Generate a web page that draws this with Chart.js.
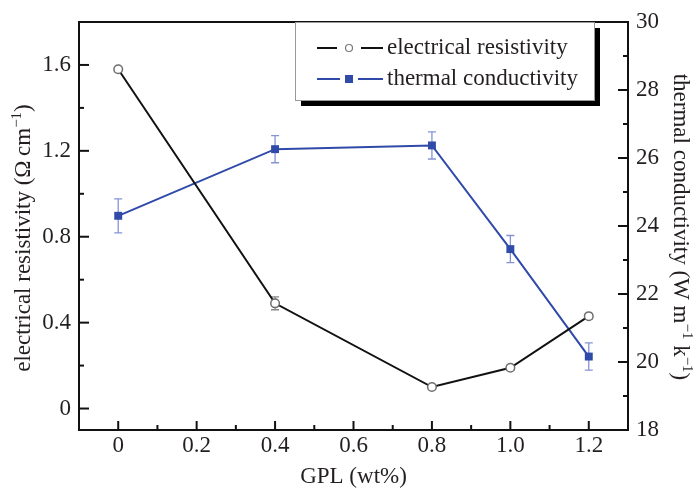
<!DOCTYPE html>
<html><head><meta charset="utf-8">
<script src="https://cdn.jsdelivr.net/npm/chart.js@4"></script>
<style>html,body{margin:0;padding:0;background:#fff;}</style>
</head><body>
<canvas id="c" width="696" height="490"></canvas>
<script>
// ---- data ----
const gpl = [0, 0.4, 0.8, 1.0, 1.2];
const resistivity = [1.58, 0.49, 0.10, 0.19, 0.43];
const resistivityErr = [0.012, 0.03, 0.01, 0.012, 0.012];
const conductivity = [24.30, 26.26, 26.37, 23.32, 20.16];
const conductivityErr = [0.5, 0.4, 0.4, 0.4, 0.4];
const xTicks = [0, 0.2, 0.4, 0.6, 0.8, 1.0, 1.2];
const xTickLabels = ['0', '0.2', '0.4', '0.6', '0.8', '1.0', '1.2'];
const xMinor = [0.1, 0.3, 0.5, 0.7, 0.9, 1.1];
const yTicks = [0, 0.4, 0.8, 1.2, 1.6];
const yTickLabels = ['0', '0.4', '0.8', '1.2', '1.6'];
const yMinor = [0.2, 0.6, 1.0, 1.4];
const y2Ticks = [18, 20, 22, 24, 26, 28, 30];
const y2TickLabels = ['18', '20', '22', '24', '26', '28', '30'];
const y2Minor = [19, 21, 23, 25, 27, 29];
const xTitle = 'GPL (wt%)';
// axis titles as [text, superscript?] parts
const yTitleParts = [['electrical resistivity (Ω\u2009cm', false], ['\u22121', true], [')', false]];
const y2TitleParts = [['thermal conductivity (W m', false], ['\u22121', true], [' k', false], ['\u22121', true], [')', false]];

const FONT = "'Liberation Serif', 'Times New Roman', serif";
const TXT = '#231f20';
const BLUE = '#2f4aa8';

const pts = (xs, ys) => xs.map((x, i) => ({x: x, y: ys[i]}));

function drawErr(ctx, ds, xScale, yScale) {
  ctx.save();
  ctx.strokeStyle = ds.errColor;
  ctx.lineWidth = 1.3;
  ds.data.forEach((p, i) => {
    const e = ds.errors[i];
    const px = xScale.getPixelForValue(p.x);
    const t = yScale.getPixelForValue(p.y + e);
    const b = yScale.getPixelForValue(p.y - e);
    ctx.beginPath();
    ctx.moveTo(px, t); ctx.lineTo(px, b);
    ctx.moveTo(px - 4, t); ctx.lineTo(px + 4, t);
    ctx.moveTo(px - 4, b); ctx.lineTo(px + 4, b);
    ctx.stroke();
  });
  ctx.restore();
}

function marks(ctx, scale, vals, len, side, a) {
  vals.forEach(v => {
    const p = scale.getPixelForValue(v);
    ctx.beginPath();
    if (side === 'bottom') { ctx.moveTo(p, a.bottom); ctx.lineTo(p, a.bottom - len); }
    else if (side === 'left') { ctx.moveTo(a.left, p); ctx.lineTo(a.left + len, p); }
    else { ctx.moveTo(a.right, p); ctx.lineTo(a.right - len, p); }
    ctx.stroke();
  });
}

function richText(ctx, parts, bx, cy, rot) {
  const big = '23px ' + FONT, small = '15px ' + FONT;
  let total = 0;
  const widths = parts.map(p => { ctx.font = p[1] ? small : big; const w = ctx.measureText(p[0]).width; total += w; return w; });
  ctx.save();
  ctx.translate(bx, cy);
  ctx.rotate(rot);
  ctx.fillStyle = TXT;
  ctx.textBaseline = 'alphabetic';
  ctx.textAlign = 'left';
  let x = -total / 2;
  parts.forEach((p, i) => {
    ctx.font = p[1] ? small : big;
    ctx.fillText(p[0], x, p[1] ? -9 : 0);
    x += widths[i];
  });
  ctx.restore();
}

const plotPlugin = {
  id: 'plotExtras',
  beforeDatasetsDraw(chart) {
    const ctx = chart.ctx;
    chart.data.datasets.forEach(ds => {
      drawErr(ctx, ds, chart.scales.x, chart.scales[ds.yAxisID]);
    });
  },
  afterDraw(chart) {
    const ctx = chart.ctx, a = chart.chartArea, s = chart.scales;
    ctx.save();
    ctx.strokeStyle = '#111';
    ctx.lineWidth = 2;
    ctx.strokeRect(a.left, a.top, a.right - a.left, a.bottom - a.top);
    marks(ctx, s.x, xTicks, 9, 'bottom', a);
    marks(ctx, s.x, xMinor, 5, 'bottom', a);
    marks(ctx, s.y, yTicks, 10, 'left', a);
    marks(ctx, s.y, yMinor, 5, 'left', a);
    marks(ctx, s.y2, y2Ticks, 10, 'right', a);
    marks(ctx, s.y2, y2Minor, 5, 'right', a);

    // axis titles with superscripts
    richText(ctx, yTitleParts, 30, 238, -Math.PI / 2);
    richText(ctx, y2TitleParts, 674, 227, Math.PI / 2);

    // legend box with shadow
    const bx = 295, by = 22, bw = 299, bh = 78;
    ctx.fillStyle = '#000';
    ctx.fillRect(bx + 6, by + 6, bw, bh);
    ctx.fillStyle = '#fff';
    ctx.fillRect(bx, by, bw, bh);
    ctx.strokeStyle = '#999';
    ctx.lineWidth = 1;
    ctx.strokeRect(bx + 0.5, by + 0.5, bw, bh);
    const rows = [48, 79];
    chart.data.datasets.forEach((ds, i) => {
      const yy = rows[i];
      ctx.strokeStyle = ds.borderColor;
      ctx.lineWidth = 2;
      ctx.beginPath();
      ctx.moveTo(317, yy); ctx.lineTo(i === 0 ? 337 : 340, yy);
      ctx.moveTo(i === 0 ? 361 : 358, yy); ctx.lineTo(383, yy);
      ctx.stroke();
      if (i === 0) {
        ctx.fillStyle = '#fff';
        ctx.strokeStyle = '#777';
        ctx.lineWidth = 1.2;
        ctx.beginPath(); ctx.arc(349, yy, 3.5, 0, Math.PI * 2); ctx.fill(); ctx.stroke();
      } else {
        ctx.fillStyle = BLUE;
        ctx.fillRect(345, yy - 4, 8, 8);
      }
      ctx.fillStyle = TXT;
      ctx.font = '23px ' + FONT;
      ctx.textBaseline = 'middle';
      ctx.textAlign = 'left';
      ctx.fillText(ds.label, 387, yy);
    });
    ctx.restore();
  }
};

const tickFont = {family: FONT, size: 23, lineHeight: 1};
const titleFont = {family: FONT, size: 23, lineHeight: 1};

new Chart(document.getElementById('c'), {
  type: 'line',
  data: {
    datasets: [
      {
        label: 'electrical resistivity',
        data: pts(gpl, resistivity),
        errors: resistivityErr,
        errColor: '#888',
        yAxisID: 'y',
        borderColor: '#111',
        borderWidth: 2,
        pointStyle: 'circle',
        pointRadius: 4.3,
        pointBorderWidth: 1.5,
        pointBorderColor: '#6e6e6e',
        pointBackgroundColor: '#fff',
        tension: 0
      },
      {
        label: 'thermal conductivity',
        data: pts(gpl, conductivity),
        errors: conductivityErr,
        errColor: '#8593d4',
        yAxisID: 'y2',
        borderColor: BLUE,
        borderWidth: 2,
        pointStyle: 'rect',
        pointRadius: 5.6,
        pointBorderWidth: 0,
        pointBackgroundColor: BLUE,
        tension: 0
      }
    ]
  },
  options: {
    responsive: false,
    animation: false,
    events: [],
    layout: {padding: {top: 22, left: 0, right: 0, bottom: 0}},
    plugins: {legend: {display: false}, tooltip: {enabled: false}},
    scales: {
      x: {
        type: 'linear', position: 'bottom', min: -0.1, max: 1.3,
        afterBuildTicks: s => { s.ticks = xTicks.map(v => ({value: v})); },
        afterFit: s => { s.height = 60; },
        grid: {display: false, drawTicks: false}, border: {display: false},
        ticks: {font: tickFont, color: TXT, padding: 4, maxRotation: 0, autoSkip: false,
                callback: (v, i) => xTickLabels[i]},
        title: {display: true, text: xTitle, font: titleFont, color: TXT, padding: {top: 0, bottom: 1.5}}
      },
      y: {
        type: 'linear', position: 'left', min: -0.1, max: 1.8,
        afterBuildTicks: s => { s.ticks = yTicks.map(v => ({value: v})); },
        afterFit: s => { s.width = 79; },
        grid: {display: false, drawTicks: false}, border: {display: false},
        ticks: {font: tickFont, color: TXT, padding: 8, autoSkip: false,
                callback: (v, i) => yTickLabels[i]},
        title: {display: false}
      },
      y2: {
        type: 'linear', position: 'right', min: 18, max: 30,
        afterBuildTicks: s => { s.ticks = y2Ticks.map(v => ({value: v})); },
        afterFit: s => { s.width = 68; },
        grid: {display: false, drawTicks: false}, border: {display: false},
        ticks: {font: tickFont, color: TXT, padding: 8, autoSkip: false,
                callback: (v, i) => y2TickLabels[i]},
        title: {display: false}
      }
    }
  },
  plugins: [plotPlugin]
});
</script>
</body></html>
